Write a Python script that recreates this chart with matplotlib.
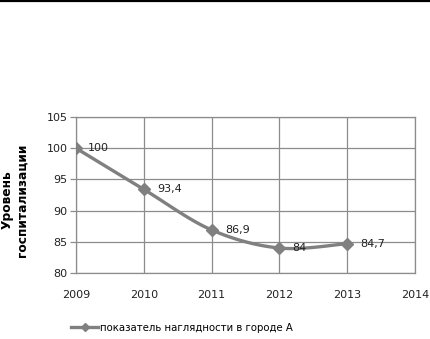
import matplotlib
matplotlib.use("Agg")
import matplotlib.pyplot as plt
import numpy as np

years = [2009, 2010, 2011, 2012, 2013]
values = [100, 93.4, 86.9, 84, 84.7]
value_labels = ["100", "93,4", "86,9", "84", "84,7"]
x_ticks = [2009, 2010, 2011, 2012, 2013, 2014]
y_ticks = [80, 85, 90, 95, 100, 105]

plt.rcParams['font.family'] = ['DejaVu Sans']

line_color = "#808080"
grid_color = "#8c8c8c"


def smooth(xs, ys, steps=30):
    # Catmull-Rom spline through the points, like a spreadsheet's smoothed line
    xs = np.asarray(xs, float)
    ys = np.asarray(ys, float)
    px = np.concatenate([[xs[0]], xs, [xs[-1]]])
    py = np.concatenate([[ys[0]], ys, [ys[-1]]])
    out_x, out_y = [], []
    t = np.linspace(0, 1, steps)
    for i in range(1, len(px) - 2):
        p0, p1, p2, p3 = [np.array([px[j], py[j]]) for j in (i - 1, i, i + 1, i + 2)]
        c1 = p1 + (p2 - p0) / 6
        c2 = p2 - (p3 - p1) / 6
        for tt in t:
            b = ((1 - tt) ** 3) * p1 + 3 * ((1 - tt) ** 2) * tt * c1 + 3 * (1 - tt) * tt ** 2 * c2 + tt ** 3 * p2
            out_x.append(b[0])
            out_y.append(b[1])
    return out_x, out_y


fig = plt.figure(figsize=(4.31, 3.39), dpi=100)
ax = fig.add_axes([0.1763, 0.1947, 0.7866, 0.4602])

sx, sy = smooth(years, values)
ax.plot(sx, sy, color=line_color, linewidth=2.4, solid_capstyle="round", zorder=3)
ax.plot(years, values, linestyle="none", marker="D", markersize=6,
        color=line_color, zorder=4)

for x, y, lab in zip(years, values, value_labels):
    ax.annotate(lab, (x, y), xytext=(8.5 if lab == "100" else 9.5, 0),
                textcoords="offset points", fontsize=8, va="center", ha="left",
                color="#222222", zorder=5)

ax.set_xlim(2009, 2014)
ax.set_ylim(80, 105)
ax.set_xticks(x_ticks)
ax.set_yticks(y_ticks)
ax.grid(True, color=grid_color, linewidth=0.9)
ax.set_axisbelow(True)
for s in ax.spines.values():
    s.set_color(grid_color)
    s.set_linewidth(0.9)
ax.tick_params(axis="x", length=0, pad=12.5, labelsize=8, colors="#222222")
ax.tick_params(axis="y", length=4, width=0.9, color=grid_color, pad=2,
               labelsize=8, labelcolor="#222222")

fig.text(0.034, 0.41, "Уровень\nгоспитализации", rotation=90, ha="center",
         va="center", fontsize=8.8, fontweight="bold", linespacing=1.25)

# rule along the top edge
fig.add_artist(plt.Line2D([0, 1], [0.997, 0.997], color="black", linewidth=1.6,
                          transform=fig.transFigure))

handle = plt.Line2D([], [], color=line_color, linewidth=2.4, marker="D",
                    markersize=4)
fig.legend([handle], ["показатель наглядности в городе А"], loc="center left",
           bbox_to_anchor=(0.155, 0.033), frameon=False, fontsize=7.3,
           handlelength=2.7, handletextpad=0.2, borderaxespad=0)

fig.savefig("out.png", dpi=100)
